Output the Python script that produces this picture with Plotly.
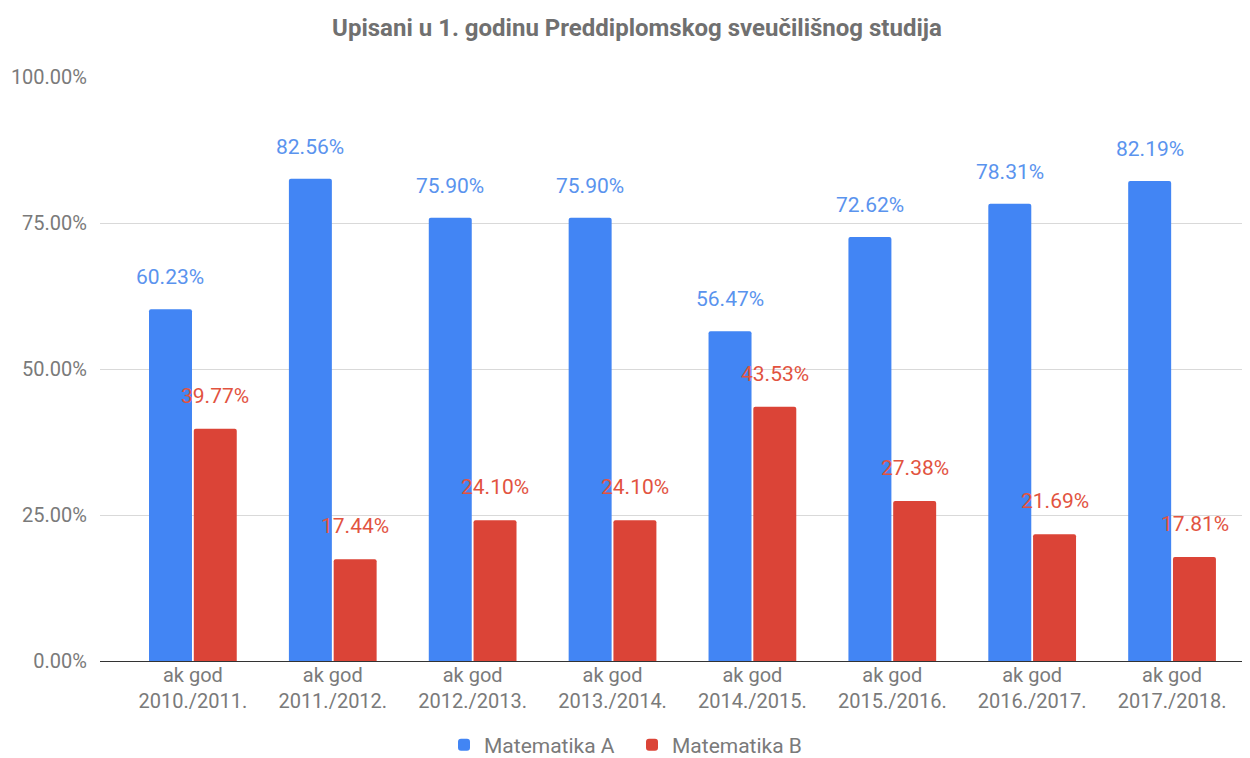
import plotly.graph_objects as go

categories = ["ak god<br>2010./2011.", "ak god<br>2011./2012.", "ak god<br>2012./2013.",
              "ak god<br>2013./2014.", "ak god<br>2014./2015.", "ak god<br>2015./2016.",
              "ak god<br>2016./2017.", "ak god<br>2017./2018."]
mat_a = [60.23, 82.56, 75.90, 75.90, 56.47, 72.62, 78.31, 82.19]
mat_b = [39.77, 17.44, 24.10, 24.10, 43.53, 27.38, 21.69, 17.81]
y_ticks = [0, 25, 50, 75, 100]
y_tick_labels = ["0.00%", "25.00%", "50.00%", "75.00%", "100.00%"]

BLUE = "#4285F4"
RED = "#DB4437"
GRAY = "#7a7a7a"

# the page body adds an 8px margin, so the figure is laid out 8px up/left
W, H = 1234, 750

fig = go.Figure()
fig.add_trace(go.Bar(name="Matematika A", x=categories, y=mat_a, marker_color=BLUE,
                     marker_line_width=0))
fig.add_trace(go.Bar(name="Matematika B", x=categories, y=mat_b, marker_color=RED,
                     marker_line_width=0))

annotations = []
for cat, a, b in zip(categories, mat_a, mat_b):
    annotations.append(dict(x=cat, y=a, xref="x", yref="y", text=f"{a:.2f}%",
                            showarrow=False, xshift=-22.5, yshift=32, yanchor="middle",
                            font=dict(family="Roboto", size=21, color="#5a93ee")))
    annotations.append(dict(x=cat, y=b, xref="x", yref="y", text=f"{b:.2f}%",
                            showarrow=False, xshift=22.5, yshift=33, yanchor="middle",
                            font=dict(family="Roboto", size=21, color="#e2533f")))

fig.update_layout(
    width=W, height=H,
    margin=dict(l=92, r=0, t=69, b=97),
    paper_bgcolor="white", plot_bgcolor="white",
    barmode="group", bargap=0.36, bargroupgap=0.04, barcornerradius=2,
    title=dict(text="<b>Upisani u 1. godinu Preddiplomskog sveučilišnog studija</b>",
               x=(637 - 8) / W, xanchor="center", xref="container",
               y=1 - (28 - 8) / H, yanchor="middle", yref="container",
               font=dict(family="Roboto", size=24, color="#707070")),
    font=dict(family="Roboto", size=20, color=GRAY),
    legend=dict(orientation="h", x=(632 - 8) / W, xanchor="center", xref="container",
                y=1 - (745 - 8) / H, yanchor="middle", yref="container",
                font=dict(family="Roboto", size=21, color=GRAY), itemwidth=30,
                entrywidth=143, entrywidthmode="pixels",
                traceorder="normal"),
    annotations=annotations,
    showlegend=True,
)
fig.update_xaxes(range=[-0.664, 7.5], showgrid=False, showline=False, ticks="",
                 tickfont=dict(family="Roboto", size=20, color=GRAY), fixedrange=True)
fig.update_yaxes(range=[0, 100], tickvals=y_ticks, ticktext=y_tick_labels,
                 showgrid=True, gridcolor="#d9d9d9", gridwidth=1,
                 zeroline=True, zerolinecolor="#333333", zerolinewidth=1.2,
                 showline=False, ticks="", ticklabelstandoff=12,
                 tickfont=dict(family="Roboto", size=20, color=GRAY), fixedrange=True)

fig.write_html("out.html")
